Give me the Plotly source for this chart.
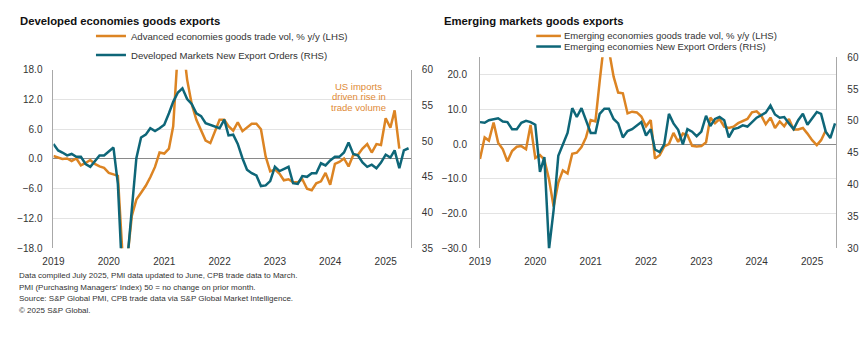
import pandas as pd
import plotly.graph_objects as go

W, H = 865, 344

# Monthly observations, Jan 2019 onwards
dm_trade = [0.6, 0.3, 0.0, 0.1, -0.4, 0.1, -1.3, -0.8, -0.2, -1.0, -1.5, -1.8,
            -2.8, -3.1, -3.4, -19.5, -20.5, -11.5, -8.2, -6.8, -5.4, -3.7, -1.6, 1.3,
            1.1, 2.1, 6.6, 22.0, 24.0, 16.0, 11.1, 7.9, 5.6, 3.7, 3.2, 5.6,
            7.9, 7.9, 6.6, 5.7, 7.4, 5.6, 6.3, 7.1, 7.1, 6.0, 0.5, -2.5,
            -2.1, -3.0, -4.3, -4.1, -4.7, -4.7, -4.1, -6.0, -6.3, -4.9, -4.5, -2.8,
            -5.2, -1.0, -0.6, 0.1, -1.5, 0.8, 0.8, 2.1, 3.0, 1.3, 3.0, 2.8,
            8.2, 6.3, 9.8, 2.1]

dm_export_orders = [49.6, 48.7, 48.4, 48.0, 48.2, 47.8, 47.8, 46.8, 46.4, 47.2, 48.0, 48.0,
                    48.6, 49.1, 44.0, 30.0, 33.0, 40.8, 47.6, 50.5, 50.9, 51.8, 51.4, 51.8,
                    52.3, 53.9, 55.5, 56.8, 57.4, 55.9, 55.2, 53.9, 53.5, 52.5, 52.3, 52.1,
                    51.8, 53.0, 50.8, 50.9, 49.6, 47.6, 46.0, 45.5, 45.2, 43.7, 43.8, 44.4,
                    46.4, 45.8, 46.1, 46.4, 44.1, 44.0, 45.1, 45.0, 45.5, 45.5, 46.9, 46.6,
                    47.3, 47.8, 47.8, 48.4, 49.8, 48.2, 48.0, 47.0, 46.4, 46.7, 46.2, 47.0,
                    48.1, 47.7, 48.7, 46.2, 48.7, 49.0]

em_trade = [-4.3, 1.9, 1.0, 6.2, 0.4, -1.5, -5.0, -2.0, -0.8, -0.6, -1.5, 5.5,
            -4.0, -3.2, -4.5, -10.2, -18.0, -11.1, -7.6, -8.5, -2.8, -2.5, -0.9, 1.9,
            6.9, 6.5, 18.0, 30.0, 27.0, 19.4, 14.8, 14.6, 8.8, 9.3, 9.1, 7.9,
            5.1, 6.9, -4.2, -3.2, -0.7, 0.0, 3.2, 0.6, 3.0, 2.6, -0.5, -0.7,
            -0.6, 0.5, 7.6, 6.0, 7.2, 5.0, 4.6, 5.0, 6.0, 6.7, 7.2, 9.1,
            9.4, 8.1, 5.7, 7.6, 4.6, 6.5, 5.1, 7.2, 4.2, 4.2, 4.6, 3.0,
            1.1, -0.3, 1.1, 3.9]

em_export_orders = [49.8, 49.7, 50.1, 50.3, 50.4, 49.9, 49.8, 48.7, 48.7, 49.7, 50.0, 49.8,
                    49.4, 42.0, 44.3, 29.9, 36.0, 44.5, 46.3, 48.1, 52.0, 50.6, 52.0, 50.1,
                    48.1, 48.1, 51.1, 51.9, 51.9, 50.3, 49.6, 47.4, 48.4, 48.7, 49.3, 49.8,
                    47.7, 48.7, 45.5, 45.1, 46.3, 51.1, 49.6, 48.6, 46.3, 48.7, 48.3, 47.6,
                    48.3, 50.8, 49.2, 50.3, 50.6, 50.1, 47.4, 48.7, 48.9, 49.3, 49.1, 49.8,
                    50.5, 50.9, 51.3, 52.4, 51.0, 50.5, 50.6, 49.6, 48.7, 50.1, 51.1, 49.4,
                    50.5, 51.4, 51.1, 48.3, 47.3, 49.6]

years = [2019, 2020, 2021, 2022, 2023, 2024, 2025]

dm_trade_name = "Advanced economies goods trade vol, % y/y (LHS)"
dm_orders_name = "Developed Markets New Export Orders (RHS)"
em_trade_name = "Emerging economies goods trade vol, % y/y (LHS)"
em_orders_name = "Emerging economies New Export Orders (RHS)"

footer_lines = [
    "Data compiled July 2025, PMI data updated to June, CPB trade data to March.",
    "PMI (Purchasing Managers' Index) 50 = no change on prior month.",
    "Source: S&P Global PMI, CPB trade data via S&P Global Market Intelligence.",
    "\u00a9 2025 S&P Global.",
]

ORANGE = "#DC8423"
TEAL = "#0E6678"
FONT = "Liberation Sans, Arial, sans-serif"
TXT = "#333333"


def months(n):
    return pd.date_range("2019-01-01", periods=n, freq="MS")


def px_x(p):
    return p / W


def px_y(p):
    return 1 - p / H


fig = go.Figure()

fig.add_trace(go.Scatter(x=months(len(dm_trade)), y=dm_trade, name=dm_trade_name,
                         mode="lines", line=dict(color=ORANGE, width=2.5),
                         xaxis="x", yaxis="y", legend="legend"))
fig.add_trace(go.Scatter(x=months(len(dm_export_orders)), y=dm_export_orders, name=dm_orders_name,
                         mode="lines", line=dict(color=TEAL, width=2.5),
                         xaxis="x", yaxis="y2", legend="legend"))
fig.add_trace(go.Scatter(x=months(len(em_trade)), y=em_trade, name=em_trade_name,
                         mode="lines", line=dict(color=ORANGE, width=2.5),
                         xaxis="x2", yaxis="y3", showlegend=False))
fig.add_trace(go.Scatter(x=months(len(em_export_orders)), y=em_export_orders, name=em_orders_name,
                         mode="lines", line=dict(color=TEAL, width=2.5),
                         xaxis="x2", yaxis="y4", showlegend=False))

tickfont = dict(family=FONT, size=10, color=TXT)
year_ticks = [pd.Timestamp(f"{y}-01-01") for y in years]
year_text = [str(y) for y in years]

xcommon = dict(type="date", tickvals=year_ticks, ticktext=year_text, showgrid=False,
               showline=False, zeroline=False, ticks="", tickfont=tickfont,
               ticklabelstandoff=6, fixedrange=True)
lhs_common = dict(showgrid=True, gridcolor="#e3e3e3", gridwidth=1, zeroline=True,
                  zerolinecolor="#8a8a8a", zerolinewidth=1, showline=True,
                  linecolor="#a8a8a8", linewidth=1, ticks="", tickfont=tickfont,
                  tickformat=".1f")
rhs_common = dict(showgrid=False, zeroline=False, showline=True, linecolor="#a8a8a8",
                  linewidth=1, ticks="", tickfont=tickfont, side="right",
                  ticklabelstandoff=8)

fig.update_layout(
    width=W, height=H,
    margin=dict(l=0, r=0, t=0, b=0),
    paper_bgcolor="white", plot_bgcolor="white",
    font=dict(family=FONT, color=TXT),
    xaxis=dict(domain=[px_x(43), px_x(405)], range=["2019-01-01", "2025-06-16"],
               anchor="y", **xcommon),
    yaxis=dict(domain=[px_y(251), px_y(66)], range=[-18, 18], dtick=6, tick0=-18,
               anchor="x", ticklabelstandoff=8, **lhs_common),
    yaxis2=dict(overlaying="y", anchor="x", range=[35, 60], dtick=5, tick0=35,
                **rhs_common),
    xaxis2=dict(domain=[px_x(475), px_x(836)], range=["2019-01-01", "2025-06-10"],
                anchor="y3", **xcommon),
    yaxis3=dict(domain=[px_y(251), px_y(53)], range=[-30, 25], dtick=10, tick0=-30,
                anchor="x2", ticklabelstandoff=10, **lhs_common),
    yaxis4=dict(overlaying="y3", anchor="x2", range=[30, 60], dtick=5, tick0=30,
                **rhs_common),
    legend=dict(x=px_x(81), y=px_y(16), xanchor="left", yanchor="top",
                bgcolor="rgba(0,0,0,0)", font=dict(family=FONT, size=9.6, color=TXT),
                tracegroupgap=0, itemclick=False, itemdoubleclick=False),
    showlegend=True,
)

annotations = [
    dict(text="<b>Developed economies goods exports</b>", x=px_x(7), y=px_y(16),
         xanchor="left", yanchor="middle", font=dict(family=FONT, size=11.3, color="#111111")),
    dict(text="<b>Emerging markets goods exports</b>", x=px_x(437), y=px_y(16),
         xanchor="left", yanchor="middle", font=dict(family=FONT, size=11.3, color="#111111")),
]

for i, line in enumerate(["US imports", "driven rise in", "trade volume"]):
    annotations.append(dict(text=line, x=px_x(352), y=px_y(83 + 11 * i),
                            xanchor="center", yanchor="middle",
                            font=dict(family=FONT, size=9.5, color="#E08A35")))

for i, line in enumerate(footer_lines):
    annotations.append(dict(text=line, x=px_x(6), y=px_y(279 + 12.2 * i),
                            xanchor="left", yanchor="middle",
                            font=dict(family=FONT, size=8.0, color=TXT)))

# Key for the emerging markets panel
shapes = []
for i, (name, color) in enumerate([(em_trade_name, ORANGE), (em_orders_name, TEAL)]):
    yy = px_y(31 + 11 * i)
    shapes.append(dict(type="line", xref="paper", yref="paper", x0=px_x(532), x1=px_x(557),
                       y0=yy, y1=yy, line=dict(color=color, width=2.5)))
    annotations.append(dict(text=name, x=px_x(558), y=yy, xanchor="left", yanchor="middle",
                            font=dict(family=FONT, size=9.5, color=TXT)))

for a in annotations:
    a.setdefault("xref", "paper")
    a.setdefault("yref", "paper")
    a.setdefault("showarrow", False)

fig.update_layout(annotations=annotations, shapes=shapes)

fig.write_html("out.html", config={"displayModeBar": False})
